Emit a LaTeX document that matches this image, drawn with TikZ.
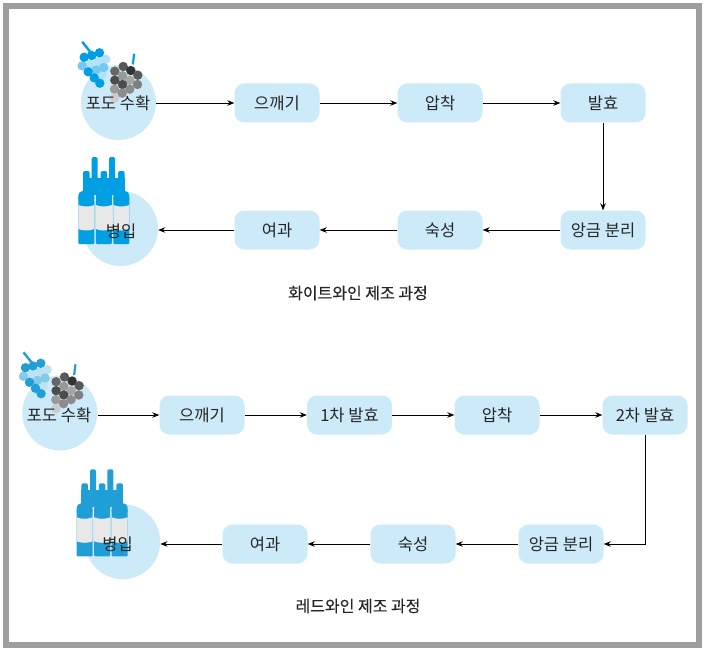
\documentclass[tikz,border=0pt]{standalone}
\usepackage{fontspec}
\setmainfont{Noto Sans CJK KR}
\usetikzlibrary{arrows.meta}
\definecolor{panel}{HTML}{CCEAF8}
\definecolor{frameline}{HTML}{9E9E9E}
\definecolor{bluewhite}{HTML}{009FE3}
\definecolor{bluered}{HTML}{209FD6}
\definecolor{labelgray}{HTML}{E8E8E8}
\tikzset{>={Stealth[length=7pt,width=5.5pt]},
  every node/.style={font=\fontsize{16.5}{19}\selectfont,text=black!85},
  stagebox/.style={fill=panel,rounded corners=10pt,minimum width=85pt,minimum height=39pt,inner sep=0pt},
  stagedisc/.style={circle,fill=panel,minimum size=75pt,inner sep=0pt},
  flow/.style={->,draw=black,line width=.8pt},
  caption/.style={font=\fontsize{16}{19}\selectfont\addfontfeature{FakeBold=.25}},
  pics/grapes/.style={code={
    \draw[#1,line width=2.4pt] (-36.3,-60.7)--(-27.7,-50);\draw[#1,line width=2.2pt] (15.7,-48.7)--(14.3,-38);
    \foreach \gx/\gy/\gc in {-28.3/-38.3/#1!30,-20/-41/#1!30,-12.7/-43.3/#1!30,-16.7/-27.7/#1!30,
      -36.3/-36.7/#1!55,-22.3/-32.7/#1!55,-14.7/-35/#1!55,-34.3/-45.3/#1,-26.7/-47/#1,-19/-49.7/#1,
      -30.3/-30.7/#1,-24.3/-24.7/#1,-18.7/-19.3/#1,
      4.7/-36/black!65,12.3/-32/black!80,19.3/-27.3/black!65,-3.7/-31.3/black!60,4/-26.7/black!40,
      -3.7/-22.3/black!70,11.3/-22.3/black!35,4/-18/black!70,19/-18/black!50,-4/-13.3/black!40,
      11.3/-13.3/black!45,3.7/-9.3/black!45,-4/-4.3/black!20}
      {\fill[\gc] (\gx,\gy) circle (4.7);}
  }},
  pics/bottles/.style={code={
    \foreach \bx in {13.3,30.7} {\fill[#1,rounded corners=1.5pt] (\bx,-34) rectangle ++(6,24);}
    \fill[#1] (4.7,-13) rectangle (46.2,4);
    \foreach \bx in {0,17.5,35} {
      \fill[#1,rounded corners=1.5pt] (\bx+4.7,-20) rectangle ++(6.5,24);
      \fill[#1,rounded corners=4.5pt] (\bx,12) -- (\bx,0) -- (\bx+16,0) -- (\bx+16,12) -- cycle;
      \fill[#1,rounded corners=1pt] (\bx,6) rectangle (\bx+16,53);
      \fill[labelgray] (\bx,14) .. controls (\bx+5,16) and (\bx+11,16) .. (\bx+16,14)
        -- (\bx+16,38) .. controls (\bx+11,40) and (\bx+5,40) .. (\bx,38) -- cycle;
    }
  }}}
\begin{document}
\begin{tikzpicture}[x=1pt,y=-1pt]
\useasboundingbox (0,0) rectangle (706,650);
\fill[white] (0,0) rectangle (706,650);
\draw[frameline,line width=6pt] (6,6) rectangle (699,645);
% White wine: the upper row runs right, the lower row comes back.
\node[stagedisc] (pick) at (118.5,102.5) {};
\pic at (118.5,102.5) {grapes=bluewhite};
\node (pickt) at (118,103) {포도 수확};
\node[stagebox] (crush) at (277,103) {으깨기};
\node[stagebox] (press) at (440,103) {압착};
\node[stagebox] (ferment) at (603,103) {발효};
\node[stagebox] (settle) at (603,230) {앙금 분리};
\node[stagebox] (age) at (440,230) {숙성};
\node[stagebox] (filter) at (277,230) {여과};
\node[stagedisc] (bottle) at (120.5,228.5) {};
\pic at (78.3,191) {bottles=bluewhite};
\node (bottlet) at (121,231) {병입};
\node[caption] (whitecap) at (358,293) {화이트와인 제조 과정};
\draw[flow] (pick.east |- crush.west) -- (crush.west);
\foreach \a/\b in {crush/press,press/ferment,ferment/settle,settle/age,age/filter} {\draw[flow] (\a) -- (\b);}
\draw[flow] (filter.west) -- (filter.west -| bottle.east);
% Red wine: first fermentation comes before pressing.
\node[stagedisc] (rpick) at (59.8,413) {};
\pic at (59.8,413) {grapes=bluered};
\node (rpickt) at (59,415) {포도 수확};
\node[stagebox] (rcrush) at (202,415) {으깨기};
\node[stagebox] (rfirst) at (349.5,415) {1차 발효};
\node[stagebox] (rpress) at (497,415) {압착};
\node[stagebox] (rsecond) at (645,415) {2차 발효};
\node[stagebox] (rsettle) at (561,544) {앙금 분리};
\node[stagebox] (rage) at (413,544) {숙성};
\node[stagebox] (rfilter) at (265,544) {여과};
\node[stagedisc] (rbottle) at (122.7,541.7) {};
\pic at (76.7,503.3) {bottles=bluered};
\node (rbottlet) at (117.5,544) {병입};
\node[caption] (redcap) at (358,606) {레드와인 제조 과정};
\draw[flow] (rpick.east |- rcrush.west) -- (rcrush.west);
\foreach \a/\b in {rcrush/rfirst,rfirst/rpress,rpress/rsecond,rsettle/rage,rage/rfilter} {\draw[flow] (\a) -- (\b);}
\draw[flow] (rsecond.south) |- (rsettle.east);
\draw[flow] (rfilter.west) -- (rfilter.west -| rbottle.east);
\end{tikzpicture}
\end{document}
